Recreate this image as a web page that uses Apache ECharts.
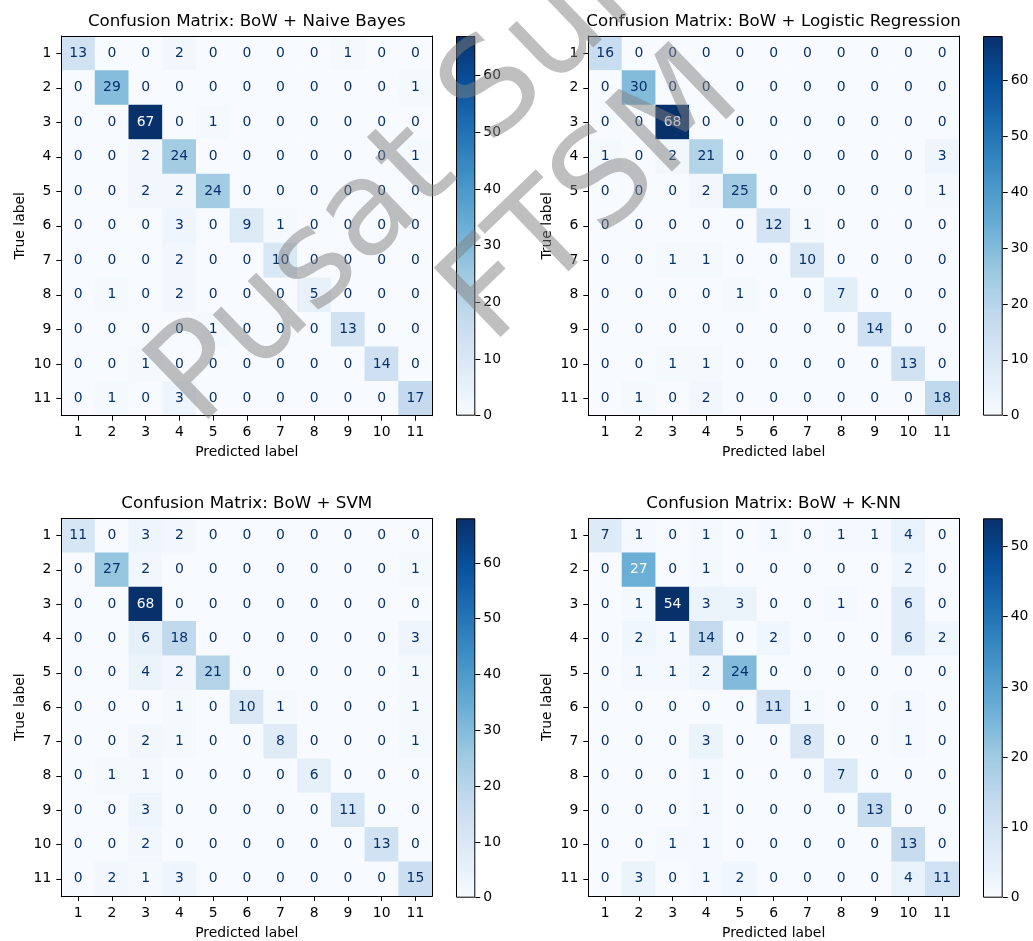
<!DOCTYPE html>
<html><head><meta charset="utf-8">
<script src="https://cdn.jsdelivr.net/npm/echarts@6/dist/echarts.min.js"></script>
<style>html,body{margin:0;padding:0;background:#fff}#c{width:1033px;height:941px}</style>
</head><body><div id="c"></div>
<script>
// ---- data ----
const classLabels = ['1','2','3','4','5','6','7','8','9','10','11'];
const panelTitles = [
  'Confusion Matrix: BoW + Naive Bayes',
  'Confusion Matrix: BoW + Logistic Regression',
  'Confusion Matrix: BoW + SVM',
  'Confusion Matrix: BoW + K-NN'
];
const cmNaiveBayes = [
  [13,0,0,2,0,0,0,0,1,0,0],
  [0,29,0,0,0,0,0,0,0,0,1],
  [0,0,67,0,1,0,0,0,0,0,0],
  [0,0,2,24,0,0,0,0,0,0,1],
  [0,0,2,2,24,0,0,0,0,0,0],
  [0,0,0,3,0,9,1,0,0,0,0],
  [0,0,0,2,0,0,10,0,0,0,0],
  [0,1,0,2,0,0,0,5,0,0,0],
  [0,0,0,0,1,0,0,0,13,0,0],
  [0,0,1,0,0,0,0,0,0,14,0],
  [0,1,0,3,0,0,0,0,0,0,17]
];
const cmLogReg = [
  [16,0,0,0,0,0,0,0,0,0,0],
  [0,30,0,0,0,0,0,0,0,0,0],
  [0,0,68,0,0,0,0,0,0,0,0],
  [1,0,2,21,0,0,0,0,0,0,3],
  [0,0,0,2,25,0,0,0,0,0,1],
  [0,0,0,0,0,12,1,0,0,0,0],
  [0,0,1,1,0,0,10,0,0,0,0],
  [0,0,0,0,1,0,0,7,0,0,0],
  [0,0,0,0,0,0,0,0,14,0,0],
  [0,0,1,1,0,0,0,0,0,13,0],
  [0,1,0,2,0,0,0,0,0,0,18]
];
const cmSVM = [
  [11,0,3,2,0,0,0,0,0,0,0],
  [0,27,2,0,0,0,0,0,0,0,1],
  [0,0,68,0,0,0,0,0,0,0,0],
  [0,0,6,18,0,0,0,0,0,0,3],
  [0,0,4,2,21,0,0,0,0,0,1],
  [0,0,0,1,0,10,1,0,0,0,1],
  [0,0,2,1,0,0,8,0,0,0,1],
  [0,1,1,0,0,0,0,6,0,0,0],
  [0,0,3,0,0,0,0,0,11,0,0],
  [0,0,2,0,0,0,0,0,0,13,0],
  [0,2,1,3,0,0,0,0,0,0,15]
];
const cmKNN = [
  [7,1,0,1,0,1,0,1,1,4,0],
  [0,27,0,1,0,0,0,0,0,2,0],
  [0,1,54,3,3,0,0,1,0,6,0],
  [0,2,1,14,0,2,0,0,0,6,2],
  [0,1,1,2,24,0,0,0,0,0,0],
  [0,0,0,0,0,11,1,0,0,1,0],
  [0,0,0,3,0,0,8,0,0,1,0],
  [0,0,0,1,0,0,0,7,0,0,0],
  [0,0,0,1,0,0,0,0,13,0,0],
  [0,0,1,1,0,0,0,0,0,13,0],
  [0,3,0,1,2,0,0,0,0,4,11]
];
const colorbarTicksNB  = [0,10,20,30,40,50,60];
const colorbarTicksLR  = [0,10,20,30,40,50,60];
const colorbarTicksSVM = [0,10,20,30,40,50,60];
const colorbarTicksKNN = [0,10,20,30,40,50];
const watermarkLines = ['Pusat Sumber', 'FTSM'];

// ---- style / layout ----
const blues = ['#f7fbff','#deebf7','#c6dbef','#9ecae1','#6baed6','#4292c6','#2171b5','#08519c','#08306b'];
const FONT = 'DejaVu Sans';
const matrices = [cmNaiveBayes, cmLogReg, cmSVM, cmKNN];
const cbTicks = [colorbarTicksNB, colorbarTicksLR, colorbarTicksSVM, colorbarTicksKNN];
const layout = [
  {l: 61.3, t: 36,    w: 371,   h: 379.7, cbl: 456, cbw: 19.3},
  {l: 588.3, t: 36,   w: 370.7, h: 379.7, cbl: 983, cbw: 19.7},
  {l: 61.3, t: 518.3, w: 371,   h: 379.4, cbl: 456, cbw: 19.3},
  {l: 588.3, t: 518.3, w: 370.7, h: 379.4, cbl: 983, cbw: 19.7}
];

const grid = [], xAxis = [], yAxis = [], series = [], visualMap = [], title = [];
const axLine = {show: true, lineStyle: {color: '#000', width: 1}};
matrices.forEach((m, k) => {
  const L = layout[k];
  const flat = m.flat();
  const vmax = Math.max(...flat), vmin = Math.min(...flat);
  const thresh = (vmax + vmin) / 2;
  const gi = grid.length;
  grid.push({left: L.l, top: L.t, width: L.w, height: L.h, containLabel: false});
  const xi = xAxis.length, yi = yAxis.length;
  xAxis.push({
    type: 'category', gridIndex: gi, data: classLabels, position: 'bottom', z: 10,
    axisLine: axLine,
    axisTick: {show: true, alignWithLabel: true, length: 5, lineStyle: {color: '#000', width: 1}},
    axisLabel: {fontSize: 13.9, color: '#000', fontFamily: FONT, margin: 10, interval: 0},
    splitLine: {show: false},
    name: 'Predicted label', nameLocation: 'middle', nameGap: 30,
    nameTextStyle: {fontSize: 13.9, color: '#000', fontFamily: FONT}
  });
  xAxis.push({type: 'category', gridIndex: gi, data: classLabels, position: 'top', z: 10,
    axisLine: axLine, axisTick: {show: false}, axisLabel: {show: false}, splitLine: {show: false}});
  yAxis.push({
    type: 'category', gridIndex: gi, data: classLabels, inverse: true, position: 'left', z: 10,
    axisLine: axLine,
    axisTick: {show: true, alignWithLabel: true, length: 5, lineStyle: {color: '#000', width: 1}},
    axisLabel: {fontSize: 13.9, color: '#000', fontFamily: FONT, margin: 10, interval: 0},
    splitLine: {show: false},
    name: 'True label', nameLocation: 'middle', nameGap: 34,
    nameTextStyle: {fontSize: 13.9, color: '#000', fontFamily: FONT}
  });
  yAxis.push({type: 'category', gridIndex: gi, data: classLabels, inverse: true, position: 'right', z: 10,
    axisLine: axLine, axisTick: {show: false}, axisLabel: {show: false}, splitLine: {show: false}});
  const data = [];
  m.forEach((row, i) => row.forEach((v, j) => {
    data.push({value: [j, i, v], label: {color: v < thresh ? blues[8] : blues[0]}});
  }));
  const si = series.length;
  series.push({
    type: 'heatmap', xAxisIndex: xi, yAxisIndex: yi, data: data,
    label: {show: true, fontSize: 13.9, fontFamily: FONT},
    emphasis: {disabled: true}, silent: true, progressive: 0
  });
  visualMap.push({type: 'continuous', show: false, seriesIndex: si, dimension: 2,
    min: 0, max: vmax, inRange: {color: blues}});
  title.push({
    text: panelTitles[k], left: L.l + L.w / 2, top: L.t - 23, textAlign: 'center', padding: 0,
    textStyle: {fontSize: 16.7, fontWeight: 'normal', color: '#000', fontFamily: FONT}
  });
  const cgi = grid.length;
  grid.push({left: L.cbl, top: L.t, width: L.cbw, height: L.h, containLabel: false});
  const cxi = xAxis.length, cyi = yAxis.length;
  xAxis.push({type: 'category', gridIndex: cgi, data: [''], show: false});
  yAxis.push({
    type: 'value', gridIndex: cgi, min: 0, max: vmax, position: 'right', z: 10,
    axisLine: {show: false},
    axisTick: {show: true, length: 5, customValues: cbTicks[k], lineStyle: {color: '#000', width: 1}},
    axisLabel: {fontSize: 13.9, color: '#000', fontFamily: FONT, margin: 8, customValues: cbTicks[k]},
    splitLine: {show: false}
  });
  series.push({
    type: 'bar', xAxisIndex: cxi, yAxisIndex: cyi, data: [vmax], barWidth: '100%', silent: true,
    itemStyle: {
      color: new echarts.graphic.LinearGradient(0, 1, 0, 0,
        blues.map((c, n) => ({offset: n / (blues.length - 1), color: c}))),
      borderColor: '#000', borderWidth: 1
    }
  });
});

const WM_ROT = 44 * Math.PI / 180;
const wmStyle = {fontSize: 132, fontFamily: 'DejaVu Sans', fill: 'rgba(128,128,128,0.5)',
  textAlign: 'center', textVerticalAlign: 'middle'};
const option = {
  backgroundColor: '#fff',
  animation: false,
  title, grid, xAxis, yAxis, visualMap, series,
  graphic: [
    {type: 'text', x: 506, y: 84, rotation: WM_ROT, z: 100, silent: true,
      style: Object.assign({text: watermarkLines[0]}, wmStyle)},
    {type: 'text', x: 594, y: 199, rotation: WM_ROT, z: 100, silent: true,
      style: Object.assign({text: watermarkLines[1]}, wmStyle)}
  ]
};
const chart = echarts.init(document.getElementById('c'), null, {renderer: 'canvas'});
chart.setOption(option);
</script></body></html>
